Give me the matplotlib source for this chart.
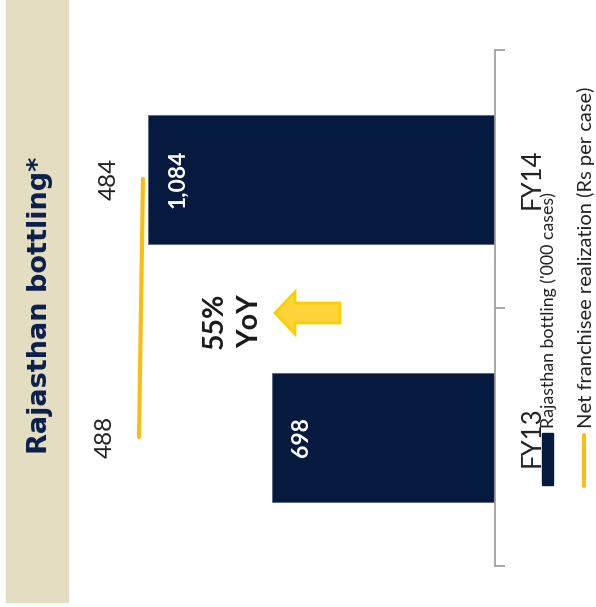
import matplotlib.pyplot as plt
from matplotlib.patches import Rectangle, FancyArrow
from matplotlib.lines import Line2D
import numpy as np

plt.rcParams['font.family'] = ['Lato', 'DejaVu Sans']

categories = ['FY13', 'FY14']
bottling = [698, 1084]          # Rajasthan bottling ('000 cases)
realization = [488, 484]        # Net franchisee realization (Rs per case)
series_names = ["Rajasthan bottling ('000 cases)",
                "Net franchisee realization (Rs per case)"]
title = 'Rajasthan bottling*'

navy = '#061a40'
gold = '#f9be14'
beige = '#e3ddc1'

W, H = 596, 607
fig = plt.figure(figsize=(W / 100, H / 100), dpi=100)

# beige title band on the left
fig.patches.append(Rectangle((6 / W, 1 - 602 / H), 62 / W, 602 / H,
                             transform=fig.transFigure, color=beige, zorder=0))
fig.text(40 / W, 1 - 305 / H, title, rotation=90, ha='center', va='center',
         fontsize=19.5, fontweight='bold', color='#0b1f4b',
         family=['DejaVu Sans'])
fig.text(-4 / W, 1 - 556 / H, '5', rotation=90, ha='center', va='center',
         fontsize=11, color='#333333')

# main axes: horizontal bars growing leftwards from the baseline
ax = fig.add_axes([79.4 / W, 1 - 566 / H, 415.6 / W, 516 / H])
y = np.arange(len(categories))
ax.barh(y, bottling, height=0.5, color=navy, edgecolor='#5a6580', linewidth=0.6)
ax.set_xlim(1300, 0)
ax.set_ylim(-0.5, 1.5)

for side in ['top', 'bottom', 'left']:
    ax.spines[side].set_visible(False)
ax.spines['right'].set_color('#a0a0a0')
ax.spines['right'].set_linewidth(1.3)
ax.set_xticks([])
ax.yaxis.tick_right()
ax.set_yticks([-0.5, 0.5, 1.5])
ax.set_yticklabels([])
ax.tick_params(axis='y', which='major', length=7, width=1.3, color='#a0a0a0')
ax.set_yticks(y, minor=True)
ax.set_yticklabels(categories, minor=True, rotation=90, va='center',
                   fontsize=18.5, color='#222222')
ax.tick_params(axis='y', which='minor', length=0, pad=18)

for yi, v in zip(y, bottling):
    ax.annotate(f'{v:,}', (v, yi), xytext=(21, 0), textcoords='offset points',
                rotation=90, ha='center', va='center', color='white',
                fontsize=16.5, fontweight='bold')

# secondary axis for realization line
ax2 = ax.twiny()
ax2.set_xlim(547.6, 132)
ax2.plot(realization, y, color=gold, linewidth=3, solid_capstyle='round')
ax2.set_xticks([])
for s in ax2.spines.values():
    s.set_visible(False)
for yi, v in zip(y, realization):
    ax2.annotate(f'{v}', (v, yi), xytext=(-24, 0), textcoords='offset points',
                 rotation=90, ha='center', va='center', color='#222222',
                 fontsize=17.5)

# growth callout
growth = round((bottling[1] / bottling[0] - 1) * 100)
fig.text(215 / W, 1 - 321 / H, f'{growth}%', rotation=90, ha='center',
         va='center', fontsize=20.5, fontweight='bold', color='#1a1a1a')
fig.text(250 / W, 1 - 321 / H, 'YoY', rotation=90, ha='center',
         va='center', fontsize=20.5, fontweight='bold', color='#1a1a1a')
fig.patches.append(FancyArrow(3.40, (H - 313) / 100, -0.65, 0,
                              width=0.20, head_width=0.42, head_length=0.20,
                              length_includes_head=True,
                              transform=fig.dpi_scale_trans,
                              fc='#ffd43b', ec='#f7d000', lw=2))

# legend, rotated by hand
fig.patches.append(Rectangle((542 / W, 1 - 485 / H), 11 / W, 52 / H,
                             transform=fig.transFigure, color=navy))
fig.text(549 / W, 1 - 428 / H, series_names[0], rotation=90, ha='center',
         va='bottom', fontsize=12.8, color='#222222')
fig.lines.append(Line2D([584 / W, 584 / W], [1 - 486 / H, 1 - 435 / H],
                        transform=fig.transFigure, color=gold, linewidth=3,
                        solid_capstyle='round'))
fig.text(586 / W, 1 - 428 / H, series_names[1], rotation=90, ha='center',
         va='bottom', fontsize=14.5, color='#222222')

fig.savefig('out.png', dpi=100)
